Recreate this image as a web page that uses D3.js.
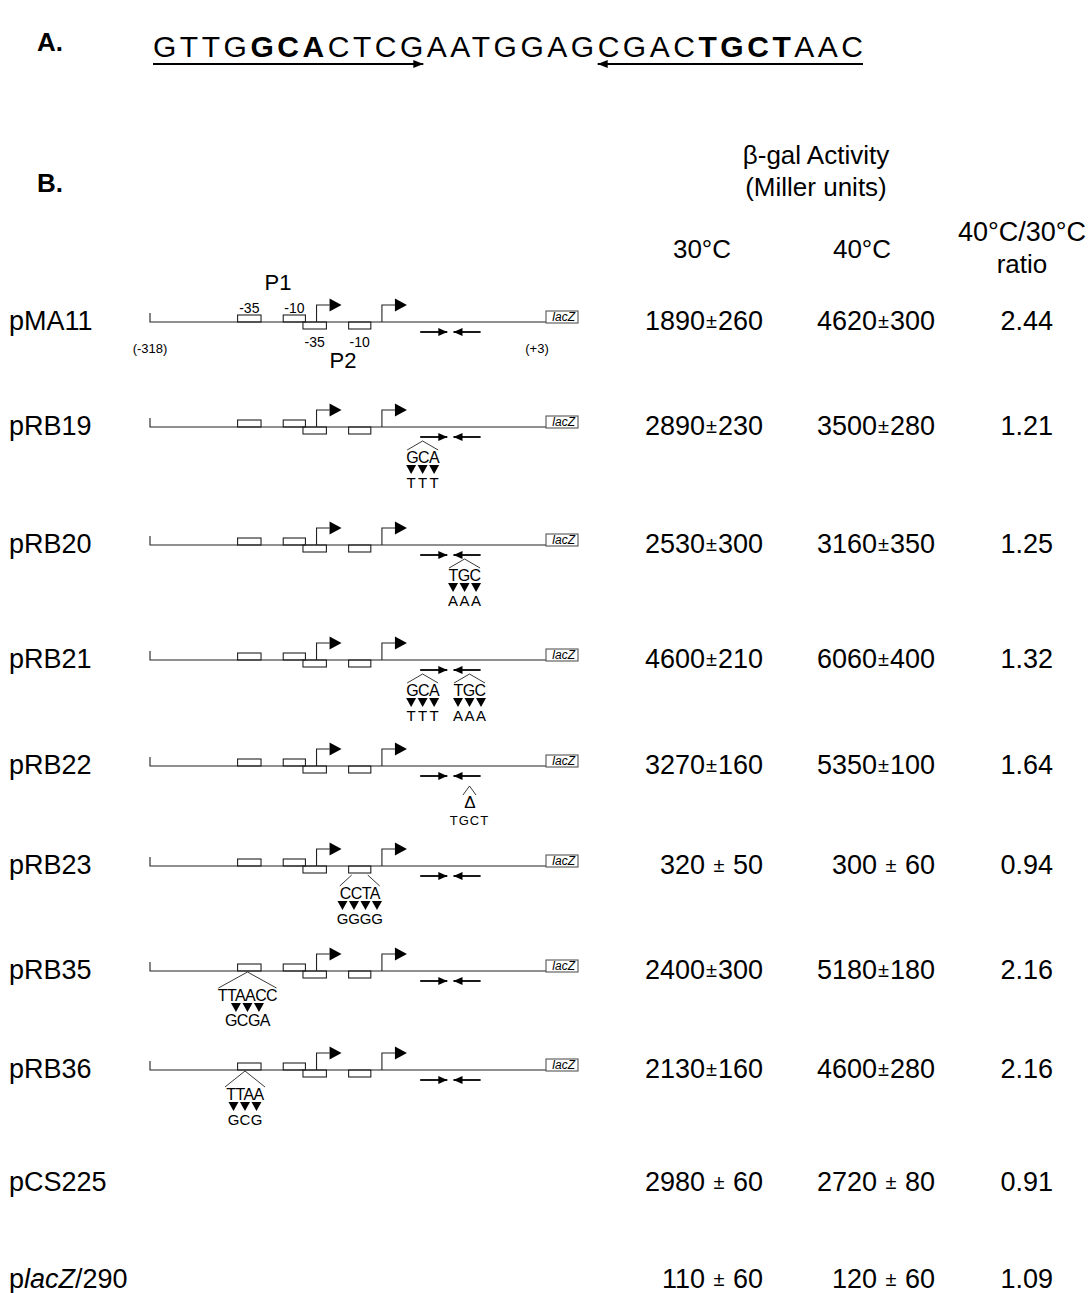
<!DOCTYPE html>
<html>
<head>
<meta charset="utf-8">
<script src="https://cdn.jsdelivr.net/npm/d3@7"></script>
<style>
  body { margin: 0; background: #fff; }
  text { font-family: "Liberation Sans", Arial, Helvetica, sans-serif; fill: #000; }
</style>
</head>
<body>
<script>
// ---- data ----
const sequence = "GTTGGCACTCGAATGGAGCGACTGCTAAC".split("");
const boldBases = [4, 5, 6, 22, 23, 24, 25];          // GCA ... TGCT
const repeatArms = [[0, 10, "right"], [18, 28, "left"]]; // base index ranges of the inverted repeat

const constructs = ["pMA11", "pRB19", "pRB20", "pRB21", "pRB22", "pRB23", "pRB35", "pRB36", "pCS225", "placZ/290"];
const act30 = [1890, 2890, 2530, 4600, 3270, 320, 2400, 2130, 2980, 110];
const sd30  = [260, 230, 300, 210, 160, 50, 300, 160, 60, 60];
const act40 = [4620, 3500, 3160, 6060, 5350, 300, 5180, 4600, 2720, 120];
const sd40  = [300, 280, 350, 400, 100, 60, 180, 280, 80, 60];
const ratio = [2.44, 1.21, 1.25, 1.32, 1.64, 0.94, 2.16, 2.16, 0.91, 1.09];

// promoter region features, bp relative to lacZ fusion (-318 .. +3)
const region = [-318, 3];
const boxesP1 = [[-247, -228, "-35"], [-210, -192, "-10"]];
const boxesP2 = [[-194, -175, "-35"], [-157, -139, "-10"]];
const startSites = [-183, -130];
const invRepeat = [[-99, -77, "right"], [-72, -50, "left"]];
const diagramRows = constructs.slice(0, 8);

// [construct, site bp, where, wild type, mutant, number of arrowheads]
const mutations = [
  ["pRB19", -97, "ir", "GCA", "TTT", 3],
  ["pRB20", -63, "ir", "TGC", "AAA", 3],
  ["pRB21", -97, "ir", "GCA", "TTT", 3],
  ["pRB21", -59, "ir", "TGC", "AAA", 3],
  ["pRB22", -59, "ir", "\u0394", "TGCT", 0],
  ["pRB23", -148, "p2box", "CCTA", "GGGG", 4],
  ["pRB35", -239, "p1box", "TTAACC", "GCGA", 3],
  ["pRB36", -241, "p1box", "TTAA", "GCG", 3]
];

// ---- layout ----
const width = 1091, height = 1293;
const svg = d3.select("body").append("svg")
  .attr("width", width)
  .attr("height", height)
  .style("display", "block");
svg.append("rect").attr("width", width).attr("height", height).attr("fill", "#fff");

const rowY = d3.scaleOrdinal()
  .domain(constructs)
  .range([322, 427, 545, 660, 766, 866, 971, 1070, 1183, 1280]);
const x = d3.scaleLinear().domain(region).range([150, 546]);

function head(g, xTip, y, dir, len, half) {
  g.append("path")
    .attr("d", `M${xTip},${y}L${xTip - dir * len},${y - half}L${xTip - dir * len},${y + half}Z`)
    .attr("fill", "#000");
}

// ---- A. ----
svg.append("text").attr("x", 37).attr("y", 51)
  .attr("font-size", 26).attr("font-weight", "bold").text("A.");

// sequence set as one line, stretched to the width of the original
const seqText = svg.append("text")
  .attr("x", 153).attr("y", 57)
  .attr("font-size", 30)
  .attr("textLength", 710).attr("lengthAdjust", "spacing");
seqText.selectAll("tspan").data(sequence).join("tspan")
  .attr("font-weight", (d, i) => boldBases.includes(i) ? "bold" : null)
  .text(d => d);

const node = seqText.node();
const armG = svg.append("g");
repeatArms.forEach(([a, b, dir]) => {
  let x0, x1;
  try {
    x0 = node.getStartPositionOfChar(a).x;
    x1 = node.getEndPositionOfChar(b).x;
  } catch (e) {
    const band = d3.scaleBand().domain(d3.range(sequence.length)).range([153, 863]);
    x0 = band(a); x1 = band(b) + band.bandwidth();
  }
  const y = 64;
  armG.append("line").attr("x1", x0).attr("x2", x1).attr("y1", y).attr("y2", y)
    .attr("stroke", "#000").attr("stroke-width", 2);
  if (dir === "right") head(armG, x1, y, 1, 10, 4);
  else head(armG, x0, y, -1, 10, 4);
});

// ---- B. ----
svg.append("text").attr("x", 37).attr("y", 192)
  .attr("font-size", 26).attr("font-weight", "bold").text("B.");

const col30 = 763, col40 = 935, colRatio = 1053;
const hdr = svg.append("g").attr("font-size", 26).attr("text-anchor", "middle");
hdr.append("text").attr("x", 816).attr("y", 164).text("\u03b2-gal Activity");
hdr.append("text").attr("x", 816).attr("y", 196).text("(Miller units)");
hdr.append("text").attr("x", 702).attr("y", 258).text("30\u00b0C");
hdr.append("text").attr("x", 862).attr("y", 258).text("40\u00b0C");
hdr.append("text").attr("x", 1022).attr("y", 241).attr("font-size", 27).text("40\u00b0C/30\u00b0C");
hdr.append("text").attr("x", 1022).attr("y", 273).text("ratio");

// row labels
const labels = svg.append("g").attr("font-size", 27);
constructs.forEach(c => {
  const t = labels.append("text").attr("x", 9).attr("y", rowY(c) + 8);
  if (c === "placZ/290") {
    t.append("tspan").text("p");
    t.append("tspan").attr("font-style", "italic").text("lacZ");
    t.append("tspan").text("/290");
  } else t.text(c);
});

// activity table
function valueText(g, xr, y, m, sd) {
  const t = g.append("text").attr("x", xr).attr("y", y).attr("text-anchor", "end");
  const sp = sd < 100 ? " " : "";
  t.append("tspan").text(m + sp);
  t.append("tspan").attr("font-size", 20).attr("dy", -2).attr("dx", 1).text("\u00b1");
  t.append("tspan").attr("dy", 2).attr("dx", 1).text(sp + sd);
}
const table = svg.append("g").attr("font-size", 27);
constructs.forEach((c, i) => {
  const y = rowY(c) + 8;
  valueText(table, col30, y, act30[i], sd30[i]);
  valueText(table, col40, y, act40[i], sd40[i]);
  table.append("text").attr("x", colRatio).attr("y", y).attr("text-anchor", "end")
    .text(ratio[i].toFixed(2));
});

// ---- construct diagrams ----
const ink = "#222";
diagramRows.forEach(c => {
  const L = rowY(c);
  const g = svg.append("g").attr("fill", "none").attr("stroke", ink).attr("stroke-width", 1.1);
  const x0 = x(region[0]), x1 = x(region[1]);
  g.append("path").attr("d", `M${x0},${L - 9}V${L}H${x1}`);
  g.append("rect").attr("x", x1).attr("y", L - 11).attr("width", 32).attr("height", 12)
    .attr("stroke", "#555");
  svg.append("text").attr("x", x1 + 29).attr("y", L - 1.5).attr("text-anchor", "end")
    .attr("font-size", 12).attr("font-style", "italic").text("lacZ");

  boxesP1.forEach(([a, b]) => g.append("rect").attr("x", x(a)).attr("y", L - 7)
    .attr("width", x(b) - x(a)).attr("height", 7));
  boxesP2.forEach(([a, b]) => g.append("rect").attr("x", x(a)).attr("y", L)
    .attr("width", x(b) - x(a)).attr("height", 7));

  startSites.forEach(s => {
    const sx = x(s);
    g.append("path").attr("d", `M${sx},${L}V${L - 17}H${sx + 13}`);
    head(svg, sx + 25, L - 17, 1, 12, 6.5);
  });

  const ay = L + 10;
  invRepeat.forEach(([a, b, dir]) => {
    const ag = svg.append("g");
    ag.append("line").attr("x1", x(a)).attr("x2", x(b)).attr("y1", ay).attr("y2", ay)
      .attr("stroke", "#000").attr("stroke-width", 1.8);
    if (dir === "right") head(ag, x(b), ay, 1, 9, 4);
    else head(ag, x(a), ay, -1, 9, 4);
  });
});

// labels that appear only on the parent construct
const Lp = rowY("pMA11");
const pl = svg.append("g").attr("text-anchor", "middle");
boxesP1.forEach(([a, b, lab]) => pl.append("text").attr("x", (x(a) + x(b)) / 2).attr("y", Lp - 9)
  .attr("font-size", 14).text(lab));
boxesP2.forEach(([a, b, lab]) => pl.append("text").attr("x", (x(a) + x(b)) / 2).attr("y", Lp + 25)
  .attr("font-size", 14).text(lab));
pl.append("text").attr("x", 278).attr("y", Lp - 32).attr("font-size", 22).text("P1");
pl.append("text").attr("x", 343).attr("y", Lp + 46).attr("font-size", 22).text("P2");
pl.append("text").attr("x", x(region[0])).attr("y", Lp + 31).attr("font-size", 13).text("(-318)");
pl.append("text").attr("x", 537).attr("y", Lp + 31).attr("font-size", 13).text("(+3)");

// ---- mutations ----
mutations.forEach(([c, site, where, wt, mut, n]) => {
  const L = rowY(c);
  const sx = x(site);
  const g = svg.append("g");
  let top, h, o = 0;
  if (where === "ir") { top = n ? L + 14 : L + 20; h = 9; }
  else if (where === "p2box") { top = L + 9; h = 11; o = 8; }
  else { top = L + 1; h = 16; }
  const spread = wt.length * 4.5 + 2;
  g.append("path")
    .attr("d", `M${sx - o},${top}L${sx - spread},${top + h}M${sx + o},${top}L${sx + spread},${top + h}`)
    .attr("fill", "none").attr("stroke", ink).attr("stroke-width", 0.9);
  const t1 = top + h + 13;
  g.append("text").attr("x", sx).attr("y", t1).attr("text-anchor", "middle")
    .attr("font-size", n ? 16 : 17).attr("letter-spacing", -0.6).text(wt);
  const tri = d3.range(n).map(k => sx + (k - (n - 1) / 2) * 11.5);
  g.selectAll("path.tri").data(tri).join("path").attr("class", "tri")
    .attr("d", d => `M${d - 5},${t1 + 2}H${d + 5}L${d},${t1 + 11}Z`)
    .attr("fill", "#000");
  if (n && mut.length === n) {
    // one mutant base under each arrowhead
    g.selectAll("text.mut").data(mut.split("")).join("text").attr("class", "mut")
      .attr("x", (d, k) => tri[k]).attr("y", t1 + 25).attr("text-anchor", "middle")
      .attr("font-size", 15).text(d => d);
  } else {
    g.append("text").attr("x", sx).attr("y", n ? t1 + 25 : t1 + 17).attr("text-anchor", "middle")
      .attr("font-size", n ? 16 : 13).attr("letter-spacing", n ? -0.5 : 1).text(mut);
  }
});
</script>
</body>
</html>
